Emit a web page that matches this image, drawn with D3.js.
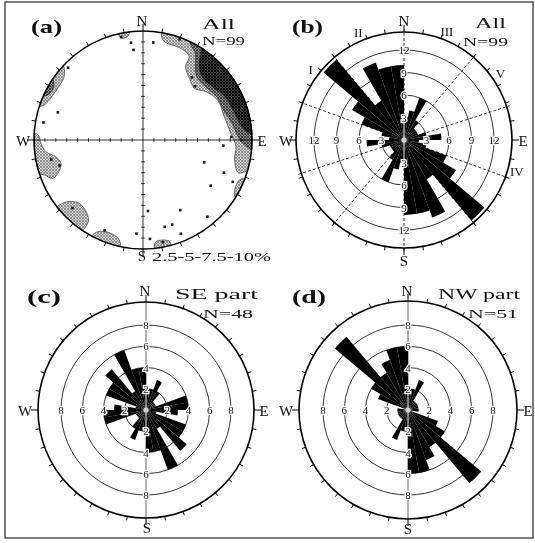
<!DOCTYPE html>
<html>
<head>
<meta charset="utf-8">
<script src="https://cdn.jsdelivr.net/npm/d3@7/dist/d3.min.js"></script>
<style>
  body { margin: 0; background: #fff; }
  svg { display: block; filter: grayscale(100%); }
</style>
</head>
<body>
<script>
// ---------- data ----------
// Rose diagrams: 10° bins of the northern half; every bin is mirrored through the centre.
const binStarts = [0, 10, 20, 30, 40, 50, 60, 70, 80, 270, 280, 290, 300, 310, 320, 330, 340, 350];
const countsAll = [3, 4, 6, 3, 2, 2, 2, 3, 5, 2, 3, 6, 8, 14, 6, 11, 10, 10];   // N=99
const countsSE  = [2, 2, 3, 2, 1, 1, 1, 4, 4, 3, 1, 4, 4, 5, 2, 6, 4, 4];       // N=48
const countsNW  = [2, 2, 3, 1, 1, 1, 1, 1, 1, 1, 0, 3, 4, 9, 4, 5, 6, 6];       // N=51

const ringsAll = [3, 6, 9, 12];
const ringsPart = [2, 4, 6, 8];

// Dashed reference directions on the "All" rose and their labels
const setLineAz = [0, 40, 72, 110, 140];
const setLabels = ["I", "II", "III", "V", "IV"];
const setLabelAz = [307, 337, 21.5, 55.5, 105.5];

// Lower-hemisphere poles (trend, plunge in degrees)
const poleTrend  = [353, 354, 6, 348, 314, 288, 280, 253, 258, 88, 94, 110, 112, 115, 124, 176, 152, 140, 161, 166, 158, 184, 176, 44, 38, 20, 203, 226, 169];
const polePlunge = [11, 18, 11, 4, 5, 19, 8, 21, 15, 20, 27, 40, 21, 10, 26, 35, 28, 9, 19, 19, 8, 15, 10, 32, 28, 2, 11, 11, 5];

// Density contour outlines as [azimuth, normalised radius]; r = 1 runs along the primitive circle
const contourNE1 = [[10,1],[106,1],[109,0.925],[102,0.858],[94,0.855],[86,0.81],[74,0.776],[62,0.777],[52.5,0.728],[45,0.668],[37,0.708],[30,0.78],[29,0.875],[22.5,0.91],[14,0.915],[11,0.94]];
const contourNE2 = [[25,1],[95,1],[90,0.89],[80,0.835],[70,0.79],[60,0.785],[50,0.755],[40,0.765],[35,0.84],[31,0.93]];
const contourNE3 = [[33,1],[87,1],[83,0.92],[73,0.875],[62,0.85],[52,0.8],[44,0.79],[38,0.84],[34.5,0.925]];
const contourNW1 = [[288,1],[313,1],[309,0.93],[298,0.92],[292,0.94],[289,0.97]];
const contourNW2 = [[294,1],[304,1],[301,0.955],[296,0.96]];
const contourW1  = [[252,1],[273.6,1],[272.7,0.961],[268,0.936],[263,0.896],[259,0.813],[254,0.782],[248.6,0.84],[247,0.9],[250.5,0.96]];
const contourSW1 = [[214,1],[232,1],[230.7,0.893],[225,0.824],[217.4,0.847],[213.8,0.902]];
const contourSSW1 = [[192,1],[208,1],[206.3,0.938],[199,0.905],[193.3,0.943]];
const contourS1  = [[165,1],[174,1],[172.7,0.94],[166,0.951]];
const contourESE1 = [[111,1],[122,1],[119.5,0.963],[112.5,0.957]];
const contourN1  = [[347,1],[353,1],[351,0.955],[348,0.958]];

const legendText = "2.5-5-7.5-10%";

// ---------- drawing ----------
const W = 535, H = 543;
const serif = '"Liberation Serif", "DejaVu Serif", "Times New Roman", serif';
const rad = d => d * Math.PI / 180;

const svg = d3.select("body").append("svg")
  .attr("width", W).attr("height", H)
  .style("font-family", serif);

// screen-tone fills for the contour levels
const defs = svg.append("defs");
function tone(id, bg, fg, w) {
  const p = defs.append("pattern").attr("id", id)
    .attr("patternUnits", "userSpaceOnUse").attr("width", 3).attr("height", 3);
  p.append("rect").attr("width", 3).attr("height", 3).attr("fill", bg);
  p.append("path").attr("d", "M0,0L3,3M3,0L0,3").attr("stroke", fg).attr("stroke-width", w);
}
tone("lev1", "#d6d6d6", "#7a7a7a", 0.75);
tone("lev2", "#8e8e8e", "#333", 0.85);
tone("lev3", "#3a3a3a", "#000", 0.9);

// outer frame
svg.append("rect").attr("x", 5).attr("y", 2).attr("width", 528).attr("height", 536)
  .attr("fill", "none").attr("stroke", "#3a3a3a").attr("stroke-width", 1.3);

function label(g, txt, x, y, size, opts = {}) {
  const t = g.append("text").attr("x", x).attr("y", y)
    .attr("font-size", size).attr("fill", "#111")
    .attr("text-anchor", opts.anchor || "start")
    .attr("font-weight", opts.bold ? "bold" : "normal")
    .text(txt);
  if (opts.len) t.attr("textLength", opts.len).attr("lengthAdjust", "spacingAndGlyphs");
  return t;
}

function rimTicks(g, R) {
  const tickAz = d3.range(0, 360, 10);
  g.append("g").selectAll("line").data(tickAz).join("line")
    .attr("x1", d => R * Math.sin(rad(d)))
    .attr("y1", d => -R * Math.cos(rad(d)))
    .attr("x2", d => (R + (d % 90 === 0 ? 7 : 4)) * Math.sin(rad(d)))
    .attr("y2", d => -(R + (d % 90 === 0 ? 7 : 4)) * Math.cos(rad(d)))
    .attr("stroke", "#000").attr("stroke-width", 1);
}

// ---------- (a) stereonet ----------
(function () {
  const cx = 143, cy = 140, R = 109;
  const g = svg.append("g").attr("transform", `translate(${cx},${cy})`);
  const rA = d3.scaleLinear().domain([0, 1]).range([0, R]);

  // insert rim points so outlines follow the primitive circle
  function densify(pts) {
    const out = [];
    for (let i = 0; i < pts.length; i++) {
      const a = pts[i], b = pts[(i + 1) % pts.length];
      out.push(a);
      if (a[1] >= 1 && b[1] >= 1) {
        const n = Math.ceil(Math.abs(b[0] - a[0]) / 2);
        for (let k = 1; k < n; k++) out.push([a[0] + (b[0] - a[0]) * k / n, 1]);
      }
    }
    return out;
  }
  const outline = d3.lineRadial()
    .angle(d => rad(d[0]))
    .radius(d => rA(d[1]))
    .curve(d3.curveCatmullRomClosed.alpha(0.5));

  const patches = [
    [contourNE1, "lev1"], [contourNE2, "lev2"], [contourNE3, "lev3"],
    [contourNW1, "lev1"], [contourNW2, "lev2"], [contourW1, "lev1"],
    [contourSW1, "lev1"], [contourSSW1, "lev1"], [contourS1, "lev1"],
    [contourESE1, "lev1"], [contourN1, "lev1"]
  ];
  g.append("g").selectAll("path").data(patches).join("path")
    .attr("d", d => outline(densify(d[0])))
    .attr("fill", d => `url(#${d[1]})`)
    .attr("stroke", "#222").attr("stroke-width", 0.6);

  // primitive circle
  g.append("circle").attr("r", R).attr("fill", "none").attr("stroke", "#000").attr("stroke-width", 1.5);
  rimTicks(g, R);

  // N-S and E-W axes with graduations
  g.append("line").attr("x1", 0).attr("x2", 0).attr("y1", -R).attr("y2", R).attr("stroke", "#000").attr("stroke-width", 0.8);
  g.append("line").attr("y1", 0).attr("y2", 0).attr("x1", -R).attr("x2", R).attr("stroke", "#000").attr("stroke-width", 0.8);
  const grad = d3.range(1, 10).map(i => i / 10);
  const gradPts = grad.flatMap(f => [[0, -f], [0, f], [-f, 0], [f, 0]]);
  g.append("g").selectAll("line").data(gradPts).join("line")
    .attr("x1", d => d[0] === 0 ? -1.8 : rA(d[0]))
    .attr("x2", d => d[0] === 0 ? 1.8 : rA(d[0]))
    .attr("y1", d => d[1] === 0 ? -1.8 : rA(d[1]))
    .attr("y2", d => d[1] === 0 ? 1.8 : rA(d[1]))
    .attr("stroke", "#000").attr("stroke-width", 0.8);

  // poles, equal-area projection
  const poles = poleTrend.map((t, i) => ({ t, p: polePlunge[i] }));
  const eqArea = p => Math.SQRT2 * Math.sin(rad((90 - p) / 2));
  g.append("g").selectAll("rect").data(poles).join("rect")
    .attr("x", d => rA(eqArea(d.p)) * Math.sin(rad(d.t)) - 1.3)
    .attr("y", d => -rA(eqArea(d.p)) * Math.cos(rad(d.t)) - 1.3)
    .attr("width", 2.6).attr("height", 2.6).attr("fill", "#1a1a1a");

  label(svg, "(a)", 31, 33, 19, { bold: true, len: 31 });
  label(svg, "N", cx - 1, 26, 15, { anchor: "middle" });
  label(svg, "All", 202, 29, 15, { len: 33 });
  label(svg, "N=99", 202, 45, 12.5, { len: 43 });
  label(svg, "W", 23, 146, 15, { anchor: "middle" });
  label(svg, "E", 262, 146, 15, { anchor: "middle" });
  label(svg, "S", cx - 1, 261, 15, { anchor: "middle" });
  label(svg, legendText, 152, 261, 13.5, { len: 119 });
})();

// ---------- rose diagrams ----------
function drawRose(cfg) {
  const { cx, cy, R, counts, rings, ringPx } = cfg;
  const g = svg.append("g").attr("transform", `translate(${cx},${cy})`);
  const r = d3.scaleLinear().domain([0, rings[rings.length - 1]]).range([0, ringPx]);

  // concentric count circles
  g.append("g").selectAll("circle").data(rings).join("circle")
    .attr("r", d => r(d)).attr("fill", "none").attr("stroke", "#000").attr("stroke-width", 0.8);

  if (cfg.dashed) {
    g.append("g").selectAll("line").data(setLineAz).join("line")
      .attr("x1", d => -(R + 3) * Math.sin(rad(d))).attr("y1", d => (R + 3) * Math.cos(rad(d)))
      .attr("x2", d => (R + 3) * Math.sin(rad(d))).attr("y2", d => -(R + 3) * Math.cos(rad(d)))
      .attr("stroke", "#000").attr("stroke-width", 0.8).attr("stroke-dasharray", "3,2");
    g.append("g").selectAll("text").data(setLabels).join("text")
      .attr("x", (d, i) => (R + 9) * Math.sin(rad(setLabelAz[i])))
      .attr("y", (d, i) => -(R + 9) * Math.cos(rad(setLabelAz[i])))
      .attr("text-anchor", "middle").attr("dominant-baseline", "central")
      .attr("font-size", 13).attr("fill", "#111").text(d => d);
  } else {
    g.append("line").attr("x1", 0).attr("x2", 0).attr("y1", -R).attr("y2", R)
      .attr("stroke", "#000").attr("stroke-width", 0.6);
  }

  // mirrored bins
  const bars = binStarts.flatMap((a, i) => [{ a0: a, v: counts[i] }, { a0: (a + 180) % 360, v: counts[i] }]);
  const arc = d3.arc().innerRadius(0)
    .outerRadius(d => r(d.v))
    .startAngle(d => rad(d.a0)).endAngle(d => rad(d.a0 + 10));
  g.append("g").selectAll("path").data(bars).join("path")
    .attr("d", arc).attr("fill", "#000");

  // pale centre
  g.append("line").attr("x1", 0).attr("x2", 0).attr("y1", -r(rings[0]) * 1.1).attr("y2", r(rings[0]) * 1.1)
    .attr("stroke", "#fff").attr("stroke-width", 1);
  g.append("circle").attr("r", 2.6).attr("fill", "#cfcfcf");

  // outer circle + ticks
  g.append("circle").attr("r", R).attr("fill", "none").attr("stroke", "#000").attr("stroke-width", 1.6);
  rimTicks(g, R);

  // ring values along the four axes
  const ringLabels = rings.flatMap(v => [0, 90, 180, 270].map(az => ({ v, az })));
  g.append("g").selectAll("text").data(ringLabels).join("text")
    .attr("x", d => r(d.v) * Math.sin(rad(d.az)))
    .attr("y", d => -r(d.v) * Math.cos(rad(d.az)))
    .attr("text-anchor", "middle").attr("dominant-baseline", "central")
    .attr("font-size", 11).attr("fill", "#111")
    .attr("stroke", "#fff").attr("stroke-width", 2.5).attr("paint-order", "stroke")
    .text(d => d.v);
  return g;
}

drawRose({ cx: 404, cy: 140, R: 108, counts: countsAll, rings: ringsAll, ringPx: 90, dashed: true });
label(svg, "(b)", 292, 33, 19, { bold: true, len: 31 });
label(svg, "N", 404, 26, 15, { anchor: "middle" });
label(svg, "All", 475, 28, 15, { len: 31 });
label(svg, "N=99", 463, 46, 12.5, { len: 45 });
label(svg, "W", 286, 146, 15, { anchor: "middle" });
label(svg, "E", 523, 146, 15, { anchor: "middle" });
label(svg, "S", 404, 266, 15, { anchor: "middle" });

drawRose({ cx: 146, cy: 410, R: 108, counts: countsSE, rings: ringsPart, ringPx: 85, dashed: false });
label(svg, "(c)", 27, 303, 19, { bold: true, len: 34 });
label(svg, "N", 145, 296, 15, { anchor: "middle" });
label(svg, "SE part", 175, 299, 15, { len: 83 });
label(svg, "N=48", 203, 318, 12.5, { len: 50 });
label(svg, "W", 25, 416, 15, { anchor: "middle" });
label(svg, "E", 264, 416, 15, { anchor: "middle" });
label(svg, "S", 147, 533, 15, { anchor: "middle" });

drawRose({ cx: 408, cy: 410, R: 109, counts: countsNW, rings: ringsPart, ringPx: 85, dashed: false });
label(svg, "(d)", 292, 303, 19, { bold: true, len: 34 });
label(svg, "N", 407, 296, 15, { anchor: "middle" });
label(svg, "NW part", 438, 299, 15, { len: 82 });
label(svg, "N=51", 468, 318, 12.5, { len: 50 });
label(svg, "W", 286, 416, 15, { anchor: "middle" });
label(svg, "E", 528, 416, 15, { anchor: "middle" });
label(svg, "S", 408, 534, 15, { anchor: "middle" });
</script>
</body>
</html>
